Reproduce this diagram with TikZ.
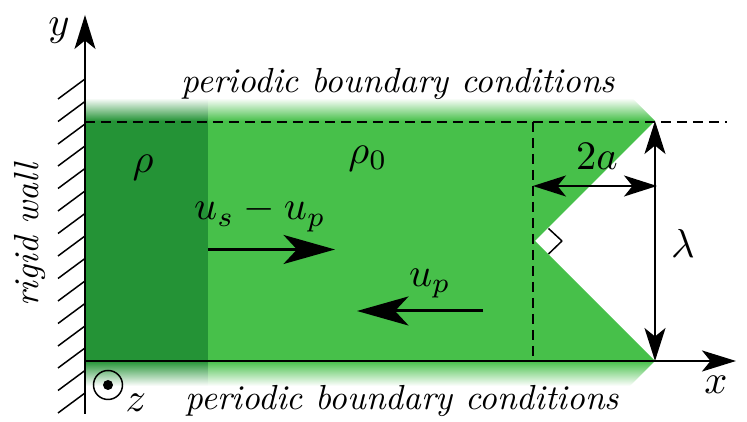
\documentclass[tikz,border=0pt]{standalone}
\usepackage{amsmath}
\usepackage{xcolor}
\usepackage{tikz}
\usetikzlibrary{arrows.meta}
\definecolor{lightgreen}{RGB}{71,192,74}
\definecolor{darkgreen}{RGB}{36,147,54}
\tikzstyle{label}=[inner sep=0pt, scale=2.3]
\tikzstyle{text label}=[inner sep=0pt, scale=1.98, font=\itshape]
\tikzstyle{axis edge}=[-{Stealth[length=0.68cm, width=0.42cm, inset=0.17cm]}, draw=black, line width=0.9pt]
\tikzstyle{big edge}=[{Stealth[length=0.66cm, width=0.42cm, inset=0.17cm]}-{Stealth[length=0.66cm, width=0.42cm, inset=0.17cm]}, draw=black, line width=1.1pt]
\tikzstyle{flow edge}=[-{Stealth[length=1.03cm, width=0.58cm, inset=0.27cm]}, draw=black, line width=1.7pt]
\tikzstyle{dashed edge}=[-, draw=black, line width=1.1pt, dash pattern=on 0.2cm off 0.12cm]
\tikzstyle{hatch edge}=[-, draw=black, line width=0.85pt]
\pgfdeclarelayer{filllayer}
\pgfdeclarelayer{edgelayer}
\pgfdeclarelayer{nodelayer}
\pgfsetlayers{filllayer,main,edgelayer,nodelayer}
\begin{document}
\begin{tikzpicture}
    	\useasboundingbox (-1.7, -1.22) rectangle (13.24, 7.22);
    	\begin{pgfonlayer}{filllayer}
    		\fill [lightgreen] (2.46, 0) -- (11.4, 0) -- (9, 2.4) -- (11.4, 4.8) -- (2.46, 4.8) -- cycle;
    		\fill [darkgreen] (0, 0) rectangle (2.46, 4.8);
    		\shade [top color=white, bottom color=lightgreen] (2.46, 4.8) -- (11.4, 4.8) -- (10.94, 5.26) -- (2.46, 5.26) -- cycle;
    		\shade [top color=lightgreen, bottom color=white] (2.46, 0) -- (11.4, 0) -- (10.9, -0.5) -- (2.46, -0.5) -- cycle;
    		\shade [top color=white, bottom color=darkgreen] (0, 4.8) rectangle (2.46, 5.26);
    		\shade [top color=darkgreen, bottom color=white] (0, 0) rectangle (2.46, -0.5);
    	\end{pgfonlayer}
    	\begin{pgfonlayer}{nodelayer}
    		\coordinate (0) at (0, 0);
    		\coordinate (1) at (13.02, 0);
    		\coordinate (2) at (0, -1.06);
    		\coordinate (3) at (0, 6.92);
    		\coordinate (4) at (0, 4.78);
    		\coordinate (5) at (12.84, 4.78);
    		\coordinate (6) at (8.96, 4.78);
    		\coordinate (7) at (8.96, 0);
    		\coordinate (8) at (8.96, 3.5);
    		\coordinate (9) at (11.44, 3.5);
    		\coordinate (10) at (11.4, 4.8);
    		\coordinate (11) at (11.4, 0);
    		\coordinate (12) at (2.46, 2.23);
    		\coordinate (13) at (5, 2.23);
    		\coordinate (14) at (7.96, 1);
    		\coordinate (15) at (5.44, 1);
    		\coordinate (16) at (9.01, 2.4);
    		\coordinate (17) at (9.27, 2.65);
    		\coordinate (18) at (9.54, 2.4);
    		\coordinate (19) at (9.27, 2.14);
    		\node [style=label] (20) at (-0.52, 6.6) {$y$};
    		\node [style=label] (21) at (12.62, -0.48) {$x$};
    		\node [style=label] (22) at (1.02, -0.84) {$z$};
    		\node [style=label] (23) at (1.16, 3.86) {$\rho$};
    		\node [style=label] (24) at (5.66, 4.04) {$\rho_0$};
    		\node [style=label] (25) at (3.5, 2.94) {$u_s - u_p$};
    		\node [style=label] (26) at (6.9, 1.54) {$u_p$};
    		\node [style=label] (27) at (10.24, 4.1) {$2a$};
    		\node [style=label] (28) at (11.96, 2.36) {$\lambda$};
    		\node [style=text label, rotate=90] (29) at (-1.1, 2.52) {rigid wall};
    		\node [style=text label] (30) at (6.26, 5.54) {periodic boundary conditions};
    		\node [style=text label] (31) at (6.34, -0.8) {periodic boundary conditions};
    		\node [draw=black, line width=0.85pt, shape=circle, minimum size=0.58cm, inner sep=0pt] (32) at (0.46, -0.48) {};
    		\node [fill=black, shape=circle, minimum size=0.2cm, inner sep=0pt] (33) at (32.center) {};
    	\end{pgfonlayer}
    	\begin{pgfonlayer}{edgelayer}
    		\draw [style=hatch edge] (0, 5.64) to ++(-0.54, -0.4);
    		\draw [style=hatch edge] (0, 5.19) to ++(-0.54, -0.4);
    		\draw [style=hatch edge] (0, 4.74) to ++(-0.54, -0.4);
    		\draw [style=hatch edge] (0, 4.3) to ++(-0.54, -0.4);
    		\draw [style=hatch edge] (0, 3.85) to ++(-0.54, -0.4);
    		\draw [style=hatch edge] (0, 3.4) to ++(-0.54, -0.4);
    		\draw [style=hatch edge] (0, 2.95) to ++(-0.54, -0.4);
    		\draw [style=hatch edge] (0, 2.5) to ++(-0.54, -0.4);
    		\draw [style=hatch edge] (0, 2.05) to ++(-0.54, -0.4);
    		\draw [style=hatch edge] (0, 1.6) to ++(-0.54, -0.4);
    		\draw [style=hatch edge] (0, 1.15) to ++(-0.54, -0.4);
    		\draw [style=hatch edge] (0, 0.7) to ++(-0.54, -0.4);
    		\draw [style=hatch edge] (0, 0.26) to ++(-0.54, -0.4);
    		\draw [style=hatch edge] (0, -0.19) to ++(-0.54, -0.4);
    		\draw [style=hatch edge] (0, -0.64) to ++(-0.54, -0.4);
    		\draw [style=axis edge] (2) to (3);
    		\draw [style=axis edge, line width=1.4pt] (0) to (1);
    		\draw [style=dashed edge] (4) to (5);
    		\draw [style=dashed edge] (6) to (7);
    		\draw [style=big edge] (8) to (9);
    		\draw [style=big edge] (10) to (11);
    		\draw [style=flow edge] (12) to (13);
    		\draw [style=flow edge] (14) to (15);
    		\draw [style=hatch edge] (17) to (18);
    		\draw [style=hatch edge] (18) to (19);
    	\end{pgfonlayer}
\end{tikzpicture}
\end{document}
